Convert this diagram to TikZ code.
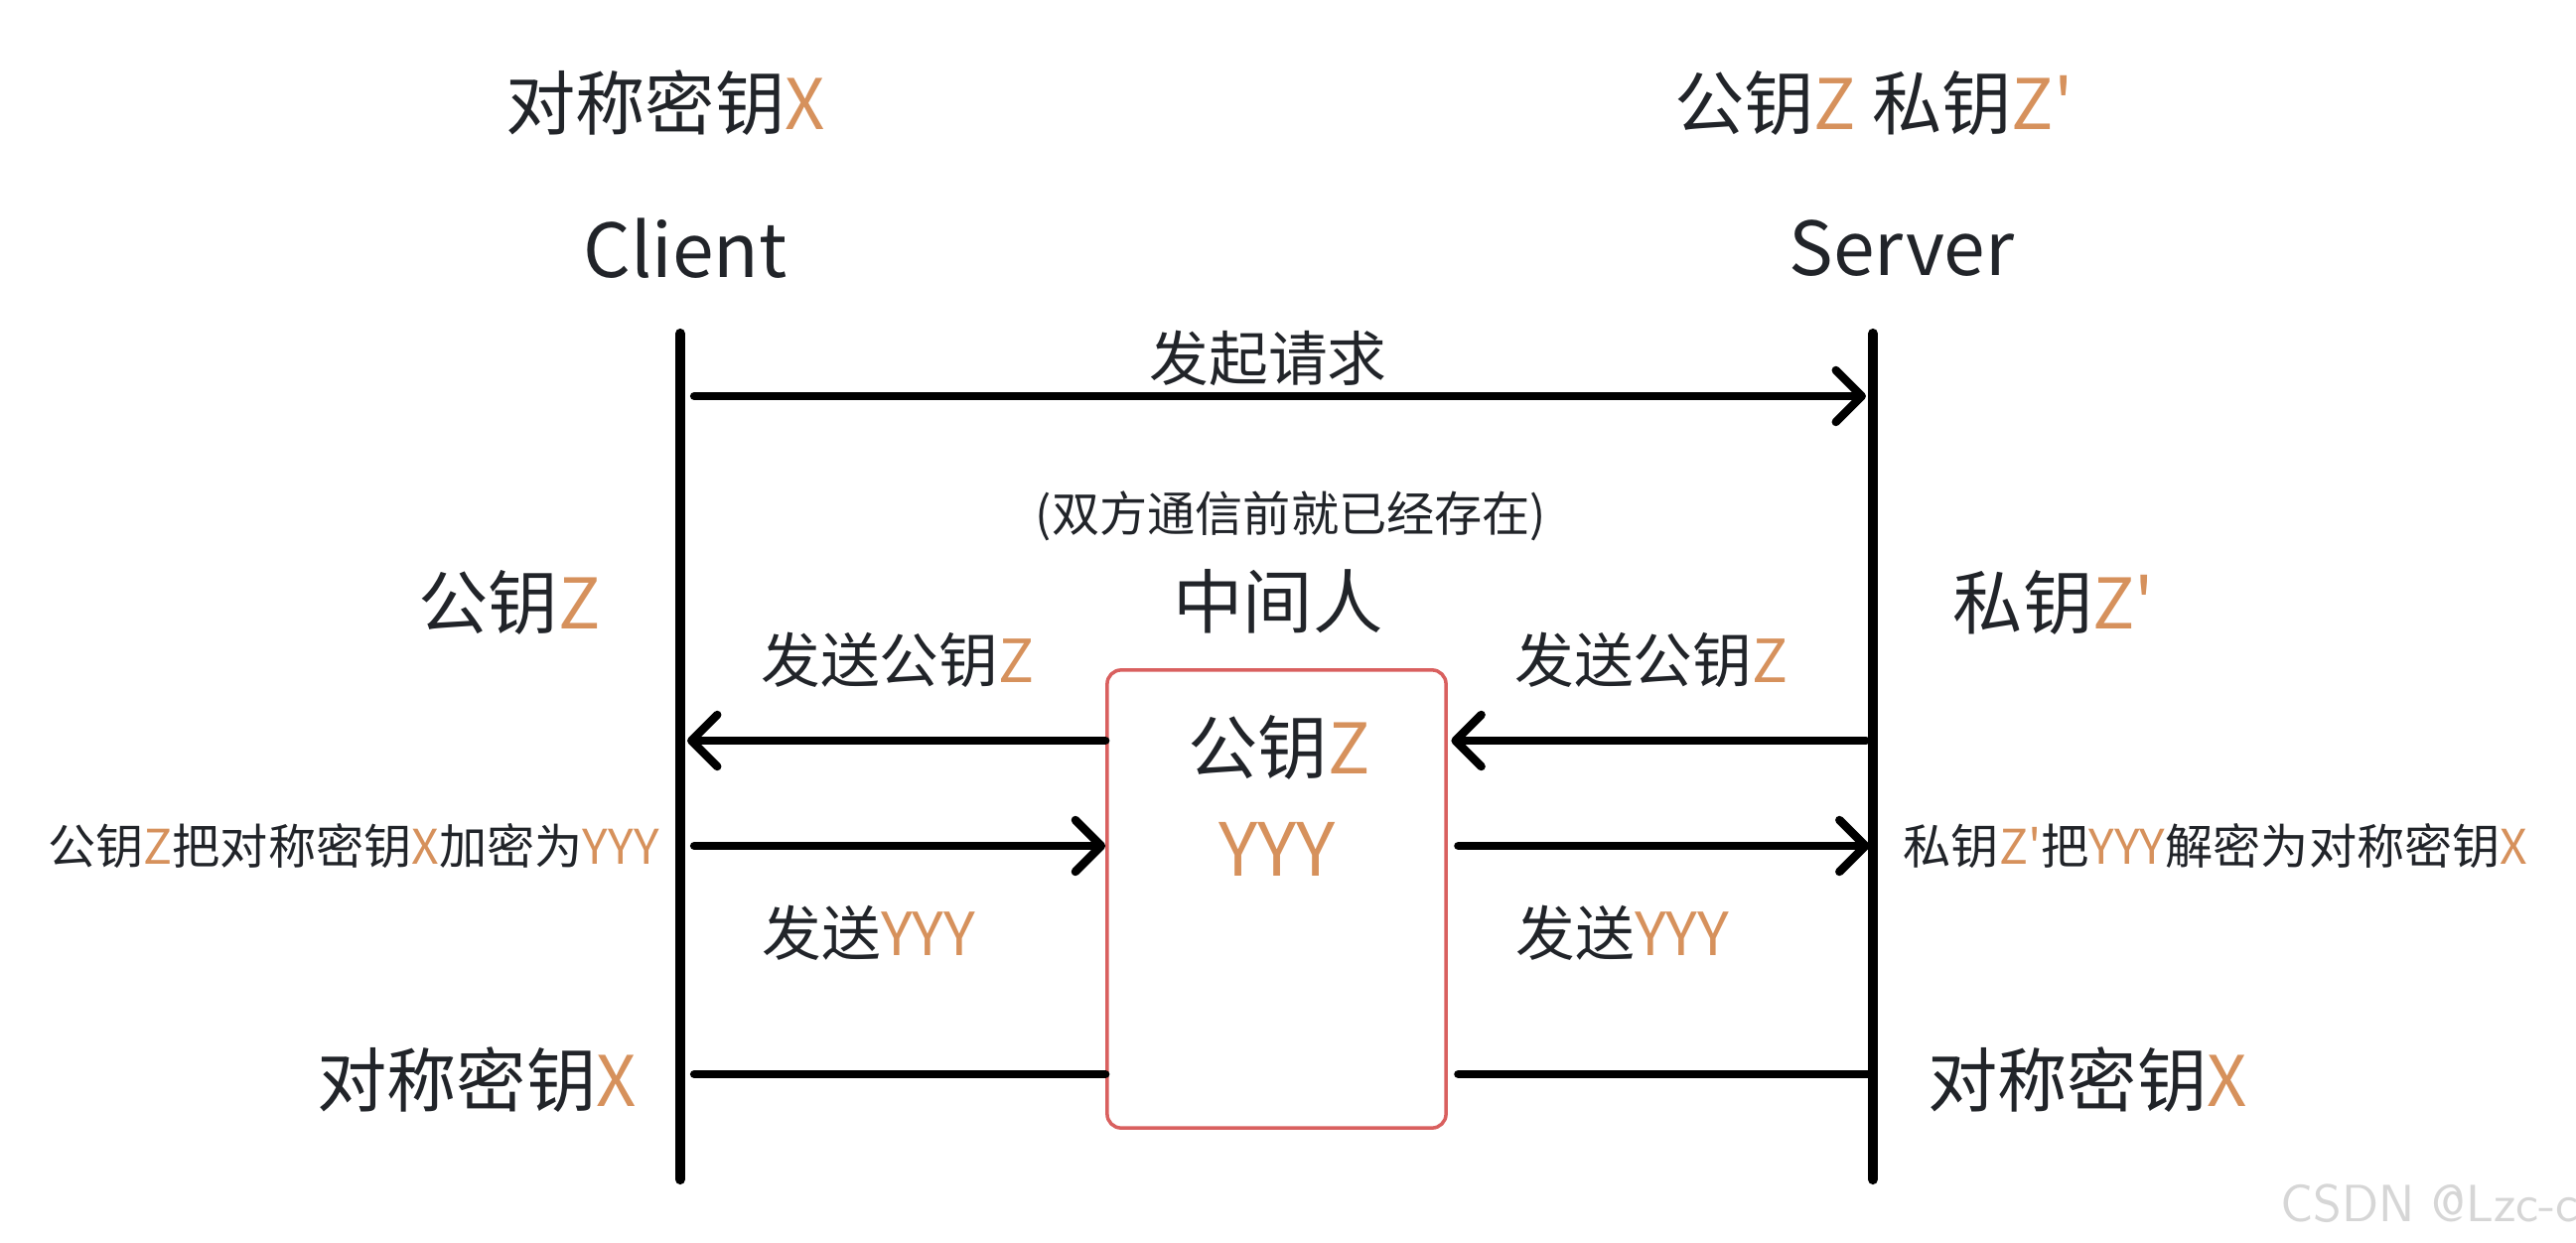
\documentclass[tikz,border=0pt]{standalone}
\usepackage{fontspec}
\newfontfamily\cjk{Noto Sans CJK SC}
\definecolor{InkGray}{RGB}{33,36,41}
\definecolor{KeyOrange}{RGB}{214,145,92}
\definecolor{BoxRed}{RGB}{217,96,95}
\definecolor{MarkGray}{RGB}{214,214,214}
\usetikzlibrary{arrows.meta, positioning}
\newcommand{\key}[1]{{\color{KeyOrange}#1}}

\tikzset{
  lifeline/.style={line width=2.9pt, line cap=round},
  msg/.style={line width=2.4pt, line cap=round,
    -{Straight Barb[length=0.26cm, width=0.52cm, round]}},
  wire/.style={line width=2.4pt, line cap=round},
  bigtext/.style={text=InkGray, inner sep=0pt, font=\cjk\fontsize{20}{24}\selectfont},
  hosttext/.style={text=InkGray, inner sep=0pt, font=\cjk\fontsize{21.3}{26}\selectfont},
  midtext/.style={text=InkGray, inner sep=0pt, font=\cjk\fontsize{17}{20}\selectfont},
  smalltext/.style={text=InkGray, inner sep=0pt, font=\cjk\fontsize{13.7}{16}\selectfont},
  mitmbox/.style={draw=BoxRed, line width=1pt, rounded corners=4pt,
    minimum width=3.41cm, minimum height=4.61cm, inner sep=0pt}
}

\begin{document}
\begin{tikzpicture}[x=0.01cm, y=-0.01cm]
\useasboundingbox (0,0) rectangle (2594,1252);

% hosts and their keys
\node[bigtext] (keyX) at (670,104) {对称密钥\key{X}};
\node[bigtext] (keyZ) at (1887,104) {公钥\key{Z} 私钥\key{Z'}};
\node[hosttext] (client) at (690,250) {Client};
\node[hosttext] (server) at (1915,250) {Server};

% lifelines
\coordinate (cTop) at (685,336);
\coordinate (cBot) at (685,1188);
\coordinate (sTop) at (1886,336);
\coordinate (sBot) at (1886,1188);
\draw[lifeline] (cTop) -- (cBot);
\draw[lifeline] (sTop) -- (sBot);

% rows of messages
\coordinate (r1) at (0,399);
\coordinate (r2) at (0,746);
\coordinate (r3) at (0,852);
\coordinate (r4) at (0,1082);

% man in the middle
\node[mitmbox] (mitm) at (1285.5,905.5) {};
\node[bigtext] (mitmName) at (1287,606) {中间人};
\node[bigtext] (boxZ) at (1288,753) {公钥\key{Z}};
\node[bigtext, font=\cjk\fontsize{21}{25}\selectfont, text=KeyOrange] (boxY) at (1286,855) {YYY};

% request
\draw[msg, shorten <=4pt, shorten >=2pt] (cTop |- r1) -- (sTop |- r1);
\node[midtext] (request) at (1277,361) {发起请求};
\node[smalltext] (before) at (1300,520) {(双方通信前就已经存在)};

% public key handed over
\node[bigtext] (pubC) at (513,607) {公钥\key{Z}};
\node[bigtext] (privS) at (2068,607) {私钥\key{Z'}};
\node[midtext] (sendZL) at (904,665) {发送公钥\key{Z}};
\node[midtext] (sendZR) at (1663,665) {发送公钥\key{Z}};
\draw[msg, shorten <=2pt, shorten >=1pt] (sTop |- r2) -- (mitm.east |- r2);
\draw[msg, shorten >=2pt] (mitm.west |- r2) -- (cTop |- r2);

% encrypted key sent back
\node[smalltext] (encC) at (356,852) {公钥\key{Z}把对称密钥\key{X}加密为\key{YYY}};
\node[smalltext] (decS) at (2231,852) {私钥\key{Z'}把\key{YYY}解密为对称密钥\key{X}};
\draw[msg, shorten <=4pt] (cTop |- r3) -- (mitm.west |- r3);
\draw[msg, shorten <=3pt, shorten >=1pt] (mitm.east |- r3) -- (sTop |- r3);
\node[midtext] (sendYL) at (875,940) {发送\key{YYY}};
\node[midtext] (sendYR) at (1634,940) {发送\key{YYY}};

% shared key
\node[bigtext] (symC) at (480,1088) {对称密钥\key{X}};
\node[bigtext] (symS) at (2102,1088) {对称密钥\key{X}};
\draw[wire, shorten <=4pt] (cTop |- r4) -- (mitm.west |- r4);
\draw[wire, shorten <=3pt] (mitm.east |- r4) -- (sTop |- r4);

\node[text=MarkGray, anchor=west, inner sep=0pt, font=\fontsize{15}{18}\selectfont\sffamily]
  (mark) at (2296,1212) {CSDN @Lzc-c};
\end{tikzpicture}
\end{document}
